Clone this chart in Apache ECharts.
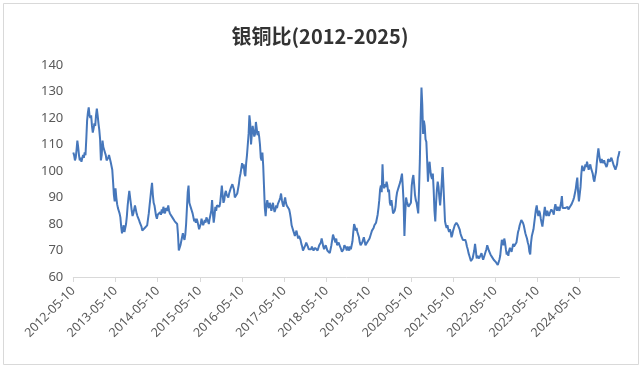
<!DOCTYPE html>
<html><head><meta charset="utf-8">
<script src="https://cdn.jsdelivr.net/npm/echarts@6/dist/echarts.min.js"></script>
<style>html,body{margin:0;padding:0;background:#fff}#c{width:640px;height:365px}</style>
</head><body><div id="c"></div>
<script>
// Weekly silver/copper ratio, each year starting on 05-10
const startYears = [2012,2013,2014,2015,2016,2017,2018,2019,2020,2021,2022,2023,2024];
const v2012 = [107,106,104,105,108,111.5,109,106,104,105,103.5,104,106,105,107,106,112,119,122,124,121,120,121,117,114.5,116,118,117,121,123.5,121,118,115.5,112,104,106,111.5,109,108,107,106,104,103.5,105,106,105.5,103.5,104,100.5,96,91,88.5];
const v2013 = [93.5,90,87.5,86,85,84,82.5,79,76.5,78,79.5,77,77.5,80,83,87,90,92.5,90,87.5,85,83,84,85.5,87,85.5,84,83,82.5,81.5,80.5,80,79,77.5,77,77.5,78.5,79,79,79.5,80,84,87,90,93,95.5,91,88,87,85,83,82];
const v2014 = [83.5,84,83.5,84.5,83.5,85.5,84,86.5,85,84,86,86.5,85,87,85,84,83.5,84,82.5,83,82,81,80.5,81,80,76,70,69.5,72,73.5,75,76.5,75,74,76,80,86,92,94.5,88,87,86,85,84,82.5,81,82,80.5,82,81,79.5,78];
const v2015 = [77.5,80,82,80.5,79.5,80.5,81.5,80.5,82.5,83,81,80,82,81.5,85,89,84,80.5,83,86.5,85,87,86.5,87.5,86.5,88,88.5,94.5,91,88,89,91.5,92.5,91,90.5,90,91.5,92.5,93.5,94,95,95.5,93,90,89.5,90.5,91.5,92,95,97.5,99,101];
const v2016 = [103,101,102.5,99,98,103,106,110,114,121,118,110,114,117,116.5,113,114,118.5,116,113.5,115,113,110,105,104,107,102,94,86,83,87,89,87,86,88,87,85,86.5,88,86,84.5,85.5,87,86,87.5,88,89,90,91.5,89,87.5,86.5];
const v2017 = [88.5,90,88,87,86.5,87,85.5,84,82,79.5,78.5,77.5,76.5,75.5,76,77.5,76,74.5,75.5,76,74,72.5,71.5,70,69.5,70.5,72,73,72.5,71.5,70.5,70,71,70.5,71.5,71,70,69.5,71,71.5,71,70,70.5,72,71.5,73,74.5,73,71.5,70.5,71,72];
const v2018 = [71,70,69.5,70.5,69,70.5,72,74,76,75,74,73,74.5,72,71.5,73,72,71.5,70.5,69.5,69,70.5,72,72.5,71,70,71.5,71,70,71.5,70.5,71,73.5,77,80,79,77.5,78.5,77,76.5,75,73,72,72.5,73,74,75,73.5,72,72.5,73,72.5];
const v2019 = [73.5,74.5,75,76.5,77.5,78,78.5,79.5,79,80.5,82,83.5,86,89,93,94.5,92,102.5,95,93.5,95,94,96,94.5,92,93,88,87,89,88.5,84,83.5,85,86.5,90,92,93,94,95,96,97.5,99,94,88,75.5,84,90,88.5,87.5,86.5,86,87];
const v2020 = [88,94.5,97,98.5,95,91,89,88,86,84,93,104,120,131.5,125,114,119,117,112,111,104,96,101,103.5,100,98,97,99,93,85,81,88,93,96,94,90,87,91,96,101.5,95,88,81,79.5,78.5,79.5,78,77,78,77,75,76];
const v2021 = [77.5,78.5,79.5,80,80.5,80,79.5,79,78,76.5,75.5,75,74,73.5,74.5,74,73,71.5,70.5,69,68,67,66,65.5,67,68.5,70,72.5,70,67,68,68.5,67,66.5,67.5,69,67.5,66.5,67,68.5,69.5,70.5,72,71,70,69.5,68.5,68,67.5,67,66.5,67];
const v2022 = [66,65.5,65,64.5,65,66.5,68,71,74,73,72,74.5,73,70.5,68.5,69.5,68,70,71,70.5,69.5,71,72.5,71.5,72,71,73,75,77,78,79.5,80.5,81.5,82,80.5,79.5,78,76.5,75.5,74.5,73,72,69.5,68.5,73,75.5,76,78,80.5,83,85.5,87];
const v2023 = [84.5,83,85,84,82,80.5,79,81.5,84,86.5,84,83,85,84.5,83,84,83.5,85.5,86,84.5,83.5,86,87.5,86,85,86.5,86,85,84.5,88,90.5,86,85.5,86.5,86,85.5,86,86.5,85.5,86,86.5,86,87.5,88,89,90,91.5,93,95.5,97.5,92,88.5];
const v2024 = [89,94,99,102,101,100,101,102.5,101.5,103.5,102,100.5,101.5,102.5,101,100,99,97,96,98,99.5,103,106,108.5,106,104,103,104.5,104,103,104,103,102.5,101.5,102.5,104.5,105,103.5,104,105,104,103,102,101.5,100.5,101,102.5,105,106,107.5];
const yearValues = [v2012,v2013,v2014,v2015,v2016,v2017,v2018,v2019,v2020,v2021,v2022,v2023,v2024];
const yTicks = [60,70,80,90,100,110,120,130,140];
const titleText = '银铜比(2012-2025)';

const pad = n => String(n).padStart(2,'0');
const categories = [], values = [], labelIdx = new Set();
startYears.forEach((yr, yi) => {
  const base = Date.UTC(yr, 4, 10);
  yearValues[yi].forEach((v, k) => {
    const d = new Date(base + k * 7 * 86400000);
    if (k === 0) labelIdx.add(categories.length);
    categories.push(d.getUTCFullYear() + '-' + pad(d.getUTCMonth() + 1) + '-' + pad(d.getUTCDate()));
    values.push(v);
  });
});

const chart = echarts.init(document.getElementById('c'), null, {renderer: 'canvas'});
chart.setOption({
  backgroundColor: '#ffffff',
  animation: false,
  title: {
    text: titleText, left: 'center', top: 21,
    textStyle: {fontFamily: '"Noto Sans CJK SC", sans-serif', fontSize: 20, fontWeight: 'bold', color: '#333333'}
  },
  graphic: [{
    type: 'rect', left: 1, top: 1, silent: true,
    shape: {width: 635, height: 361},
    style: {fill: 'none', stroke: '#d9d9d9', lineWidth: 1}
  }],
  grid: {left: 73.3, right: 20.5, top: 65, bottom: 88, containLabel: false},
  xAxis: {
    type: 'category', data: categories, boundaryGap: false,
    axisLine: {lineStyle: {color: '#d9d9d9', width: 1}},
    axisTick: {show: true, length: 5, lineStyle: {color: '#d9d9d9'}, interval: (i) => labelIdx.has(i)},
    axisLabel: {
      interval: (i) => labelIdx.has(i), rotate: 45, margin: 12,
      color: '#595959', fontSize: 12.5, fontFamily: '"Noto Sans", sans-serif'
    },
    splitLine: {show: false}
  },
  yAxis: {
    type: 'value', min: yTicks[0], max: yTicks[yTicks.length - 1], interval: 10,
    axisLine: {show: false}, axisTick: {show: false}, splitLine: {show: false},
    axisLabel: {margin: 10, color: '#595959', fontSize: 13, fontFamily: '"Noto Sans", sans-serif'}
  },
  series: [{
    type: 'line', data: values, showSymbol: false, symbol: 'none',
    lineStyle: {color: '#4677bb', width: 2},
    itemStyle: {color: '#4677bb'}
  }]
});
</script></body></html>
